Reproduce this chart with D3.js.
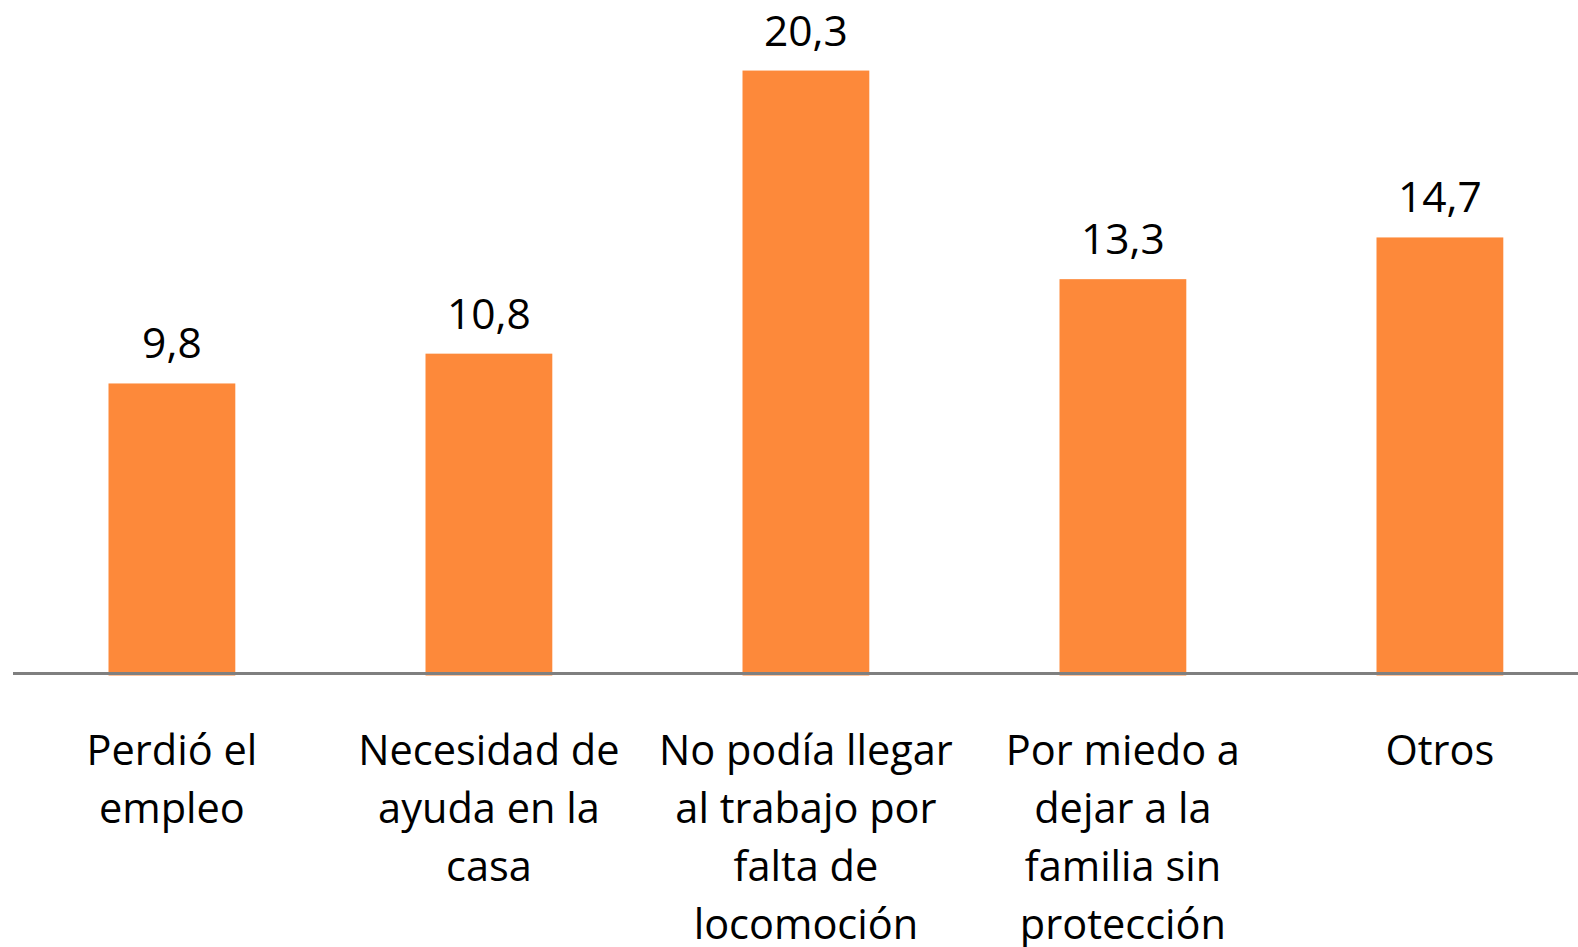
<!DOCTYPE html>
<html>
<head>
<meta charset="utf-8">
<script src="https://cdn.jsdelivr.net/npm/d3@7"></script>
<style>
  html, body { margin: 0; padding: 0; background: #fff; overflow: hidden; }
  text { font-family: "Open Sans", Lato, sans-serif; fill: #000; }
</style>
</head>
<body>
<svg id="chart" width="1578" height="947"></svg>
<script>
const categories = [
  "Perdió el\nempleo",
  "Necesidad de\nayuda en la\ncasa",
  "No podía llegar\nal trabajo por\nfalta de\nlocomoción",
  "Por miedo a\ndejar a la\nfamilia sin\nprotección",
  "Otros"
];
const values = [9.8, 10.8, 20.3, 13.3, 14.7];
const valueLabels = ["9,8", "10,8", "20,3", "13,3", "14,7"];

const svg = d3.select("#chart");
const W = 1578, H = 947;

const x = d3.scaleBand()
  .domain(categories)
  .range([13.4, 1598.4])
  .paddingInner(0.6)
  .paddingOuter(0.3);

const y = d3.scaleLinear()
  .domain([0, 22])
  .range([675.5, 675.5 - 22 * 29.8]);

const data = categories.map((c, i) => ({ c, v: values[i], lab: valueLabels[i] }));

svg.append("g").selectAll("rect")
  .data(data)
  .join("rect")
  .attr("x", d => x(d.c))
  .attr("width", x.bandwidth())
  .attr("y", d => y(d.v))
  .attr("height", d => y(0) - y(d.v))
  .attr("fill", "#FD893A");

// baseline axis
const axis = d3.axisBottom(x).tickSize(0).tickFormat("");
const gAxis = svg.append("g")
  .attr("transform", "translate(0,673.5)")
  .call(axis);
gAxis.select(".domain").remove();
gAxis.append("line")
  .attr("x1", 13).attr("x2", W)
  .attr("y1", 0).attr("y2", 0)
  .attr("stroke", "#7F7F7F")
  .attr("stroke-width", 3);

// value labels
svg.append("g").selectAll("text")
  .data(data)
  .join("text")
  .attr("x", d => x(d.c) + x.bandwidth() / 2)
  .attr("y", d => y(d.v) - 25)
  .attr("text-anchor", "middle")
  .style("font-size", "42.5px")
  .text(d => d.lab);

// category labels
const cat = svg.append("g").selectAll("text")
  .data(data)
  .join("text")
  .attr("text-anchor", "middle")
  .style("font-size", "41.5px")
  .attr("transform", d => `translate(${x(d.c) + x.bandwidth() / 2},765)`);
cat.selectAll("tspan")
  .data(d => d.c.split("\n"))
  .join("tspan")
  .attr("x", 0)
  .attr("y", (d, i) => i * 58)
  .text(d => d);
</script>
</body>
</html>
